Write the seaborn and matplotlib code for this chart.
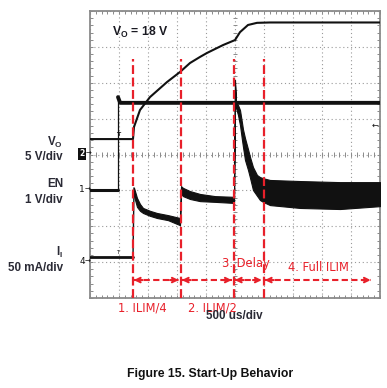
import numpy as np
import pandas as pd
import matplotlib
matplotlib.use("Agg")
import matplotlib.pyplot as plt
import seaborn as sns

# time axis in us (500 us/div), levels in screen divisions (0 = bottom, 8 = top)
vo_t = [0, 741, 759, 862, 1034, 1328, 1552, 1724, 1897, 2017, 2293, 2500, 2586, 2724, 2879, 3100, 5000]
vo_y = [4.43, 4.43, 4.77, 5.24, 5.60, 6.02, 6.30, 6.55, 6.72, 6.83, 7.05, 7.19, 7.41, 7.61, 7.67, 7.68, 7.68]

en_t = [0, 483, 483, 520, 5000]
en_y = [3.01, 3.01, 5.60, 5.44, 5.44]

ii_base_t = [0, 741, 759]
ii_base_y = [1.14, 1.14, 3.07]

band_t = [759, 810, 862, 914, 1034, 1155, 1345, 1552,
          1569, 1603, 1724, 1897, 2155, 2483,
          2500, 2517, 2552, 2586, 2621, 2638, 2672, 2724, 2759, 2810, 2879,
          2931, 2983, 3103, 3621, 4310, 5000]
band_top = [3.07, 2.79, 2.62, 2.51, 2.43, 2.37, 2.31, 2.23,
            3.12, 3.07, 2.98, 2.90, 2.84, 2.82,
            6.08, 5.45, 5.38, 5.24, 4.88, 4.70, 4.46, 4.15, 3.93, 3.65, 3.43,
            3.37, 3.34, 3.29, 3.26, 3.23, 3.23]
band_bot = [2.84, 2.54, 2.43, 2.37, 2.29, 2.23, 2.17, 2.03,
            2.90, 2.84, 2.76, 2.70, 2.68, 2.65,
            5.95, 5.30, 5.10, 4.82, 4.40, 4.21, 3.85, 3.57, 3.35, 3.01, 2.85,
            2.73, 2.68, 2.59, 2.51, 2.48, 2.56]

phase_edges = [741, 1569, 2483, 3000]
arrow_end = 4880
phase_labels = ["1. ILIM/4", "2. ILIM/2", "3. Delay", "4. Full ILIM"]

RED = "#e8202a"
INK = "#111111"

sns.set_style("white")
plt.rcParams["font.family"] = ["DejaVu Sans"]
plt.rcParams["mathtext.fontset"] = "custom"
plt.rcParams["mathtext.bf"] = "Liberation Sans:bold"
plt.rcParams["mathtext.rm"] = "Liberation Sans:bold"

fig = plt.figure(figsize=(3.87, 3.88), dpi=100)
ax = fig.add_axes([90 / 387, 1 - 298 / 388, 290 / 387, 287 / 388])


def px(x, y):
    return x / 387, 1 - y / 388


# scope graticule
ax.set_xlim(0, 5000)
ax.set_ylim(0, 8)
ax.set_xticks(np.arange(0, 5001, 500))
ax.set_yticks(np.arange(0, 9, 1))
ax.set_xticks(np.arange(0, 5001, 100), minor=True)
ax.set_yticks(np.arange(0, 8.01, 0.2), minor=True)
ax.tick_params(which="both", direction="in", length=2.5, width=0.7,
               color="#8a8a8a", top=True, right=True, bottom=True, left=True,
               labelbottom=False, labelleft=False)
ax.grid(True, which="major", ls=(0, (1, 2.5)), color="#9a9a9a", lw=0.8)
for sp in ax.spines.values():
    sp.set_color("#8a8a8a")
    sp.set_linewidth(1.3)
ax.vlines(np.arange(0, 5001, 100), 4 - 0.06, 4 + 0.06, color="#8a8a8a", lw=0.7)
ax.hlines(np.arange(0, 8.01, 0.2), 2500 - 35, 2500 + 35, color="#8a8a8a", lw=0.7)

# traces
sns.lineplot(x=vo_t, y=vo_y, sort=False, estimator=None, color=INK, lw=1.5, ax=ax, zorder=4)
sns.lineplot(x=en_t[:2], y=en_y[:2], sort=False, estimator=None, color=INK, lw=2.2, ax=ax, zorder=4)
sns.lineplot(x=en_t[1:3], y=en_y[1:3], sort=False, estimator=None, color=INK, lw=0.9, ax=ax, zorder=4)
sns.lineplot(x=en_t[2:], y=en_y[2:], sort=False, estimator=None, color=INK, lw=2.8, ax=ax, zorder=4)
sns.lineplot(x=ii_base_t[:2], y=ii_base_y[:2], sort=False, estimator=None, color=INK, lw=2.0, ax=ax, zorder=4)
sns.lineplot(x=ii_base_t[1:], y=ii_base_y[1:], sort=False, estimator=None, color=INK, lw=1.0, ax=ax, zorder=4)
ax.fill_between(band_t, band_bot, band_top, color=INK, lw=0.8, edgecolor=INK, zorder=4)

# trigger markers
ax.text(483, 4.55, "T", fontsize=4.5, fontweight="bold", ha="center", va="center", color=INK, zorder=5)
ax.text(483, 1.26, "T", fontsize=4, ha="center", va="center", color=INK, zorder=5)
ax.text(4914, 4.82, "←", fontsize=6, ha="center", va="center", color=INK, zorder=5)

# phase markers
for t in phase_edges:
    ax.plot([t, t], [0, 6.66], color=RED, lw=1.6, ls=(0, (4, 1.6)), zorder=6, clip_on=False)
starts = phase_edges
ends = phase_edges[1:] + [arrow_end]
for a, b in zip(starts, ends):
    a2, b2 = a + 15, b - 40
    ax.plot([a2, b2], [0.5, 0.5], color=RED, lw=1.5, ls=(0, (3, 1.6)), zorder=6)
    for tip, back in [(a2, a2 + 150), (b2, b2 - 150)]:
        ax.annotate("", xy=(tip, 0.5), xytext=(back, 0.5),
                    arrowprops=dict(arrowstyle="->", color=RED, lw=1.5,
                                    mutation_scale=8, shrinkA=0, shrinkB=0),
                    zorder=6)

label_pos = [(897, -0.28), (2103, -0.28), (2690, 0.95), (3931, 0.84)]
for lab, (tx, ty) in zip(phase_labels, label_pos):
    ax.text(tx, ty, lab, color=RED, fontsize=8.3, ha="center", va="center",
            clip_on=False, zorder=7)

ax.text(2483, -0.50, "500 us/div", fontsize=8.4, fontweight="bold",
        family="Liberation Sans", color="#2a2a35", ha="center", va="center",
        clip_on=False, zorder=8)
ax.text(862, 7.41, r"V$_\mathbf{O}$ = 18 V", fontsize=8.8, fontweight="bold",
        family="Liberation Sans", color="#1a1a22", ha="center", va="center", zorder=7)

# channel labels on the left
left_labels = [(r"V$_\mathbf{O}$", 142), ("5 V/div", 157), ("EN", 184),
               ("1 V/div", 200), (r"I$_\mathbf{I}$", 252), ("50 mA/div", 268)]
for txt, yy in left_labels:
    fig.text(*px(63, yy), txt, fontsize=8.4, fontweight="bold", family="Liberation Sans",
             color="#2a2a35", ha="right", va="center")

fig.text(*px(82, 154), "2", fontsize=5.5, fontweight="bold", color="white",
         ha="center", va="center",
         bbox=dict(boxstyle="square,pad=0.15", fc="#111111", ec="none"))
fig.text(*px(88.5, 154), "→", fontsize=5, color=INK, ha="center", va="center")
for ch, yy in [("1", 190), ("4", 262)]:
    fig.text(*px(82, yy), ch, fontsize=6.5, color=INK, ha="center", va="center")
    fig.text(*px(87.5, yy), "→", fontsize=5, color=INK, ha="center", va="center")

fig.text(*px(210, 374), "Figure 15. Start-Up Behavior", fontsize=8.8, fontweight="bold",
         family="Liberation Sans", color="#111111", ha="center", va="center")

fig.savefig("out.png", dpi=100)
